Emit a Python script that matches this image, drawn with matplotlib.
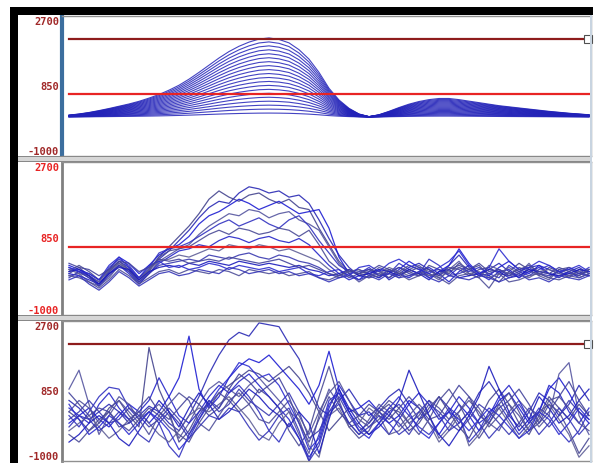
import numpy as np
import matplotlib.pyplot as plt
from matplotlib.patches import Rectangle

W, H = 596, 464

# sample times (one every 10 px of the original trace window)
times = np.arange(0, 530, 10)

upperThreshold = 2080
lowerThreshold = 650
yTicks = [-1000, 850, 2700]
yTickLabels = ['-1000', '850', '2700']

# panel 1: shape of the outermost contour (height above baseline) and contour levels
profile = [50, 80, 120, 170, 225, 285, 345, 415, 500, 595,
           710, 840, 1000, 1180, 1370, 1560, 1730, 1870, 1980, 2060,
           2090, 2050, 1960, 1780, 1530, 1180, 760, 450, 230, 80,
           10, 60, 150, 250, 340, 410, 460, 490, 490, 460,
           420, 380, 340, 300, 270, 240, 210, 180, 150, 125,
           100, 80, 60]
levels = [1.0, 0.95, 0.9, 0.85, 0.8, 0.75, 0.7, 0.65, 0.6, 0.55,
          0.5, 0.45, 0.4, 0.35, 0.3, 0.25, 0.2, 0.15, 0.1, 0.05]
baseline1 = 30

# panel 2 traces
p2a = [100, 50, -100, -250, 50, 300, 150, -150, 100, 350,
       550, 800, 1050, 1350, 1600, 1750, 1700, 1950, 2100, 2050,
       1950, 2000, 1850, 1900, 1700, 1300, 850, 450, 150, -50,
       -100, 100, -150, 0, 150, 250, 100, -50, 200, 450,
       150, -50, 100, 250, 50, -100, 150, 200, 0, -100,
       50, 150, 0]
p2b = [0, 150, -50, -300, 0, 250, 100, -200, 50, 400,
       650, 900, 1150, 1450, 1800, 2000, 1850, 1750, 1900, 1950,
       1800, 1700, 1800, 1600, 1550, 1100, 700, 300, 50, 100,
       0, -100, 50, 150, 50, -50, 200, 100, 0, 250,
       100, 200, -50, -200, 50, 250, 100, -50, 150, 50,
       -100, 100, 50]
p2c = [200, 100, 0, -150, 100, 400, 250, 0, 200, 450,
       600, 700, 900, 1200, 1400, 1500, 1650, 1800, 1700, 1550,
       1650, 1750, 1600, 1450, 1500, 1550, 1100, 400, 0, -150,
       50, 0, -100, 100, 300, 150, -100, 50, 200, 600,
       250, 0, -50, 150, 300, 100, 0, 200, 100, 0,
       150, 50, -50]
p2d = [-50, 0, -200, -300, -100, 200, 50, -250, 0, 300,
       450, 600, 700, 950, 1150, 1300, 1450, 1400, 1550, 1500,
       1350, 1450, 1500, 1300, 1200, 1050, 650, 250, 0, -200,
       -50, 150, 50, -100, 100, 200, 0, -150, 100, 300,
       0, -100, 200, 100, -50, 0, 250, -50, -150, 100,
       0, -50, 100]
p2e = [150, 50, -50, -200, 150, 350, 200, -100, 150, 500,
       600, 650, 750, 900, 1050, 1200, 1300, 1150, 1250, 1350,
       1200, 1100, 1300, 1400, 1150, 800, 500, 200, 50, 0,
       150, -50, 0, 250, 100, 0, 350, 200, -50, 150,
       50, 150, 0, -100, 200, 50, -50, 100, 200, 50,
       -50, 0, 150]
p2f = [50, 200, 50, -150, 50, 300, 100, -100, 100, 400,
       550, 600, 650, 800, 950, 1050, 950, 1100, 1050, 950,
       1000, 1100, 1050, 900, 1050, 700, 300, 100, -100, 0,
       100, 50, -100, 50, 200, 100, -50, 0, 150, 100,
       -50, 100, 150, 0, -50, 150, 50, 0, -100, 100,
       150, 0, 50]
p2g = [0, -50, -150, -250, 0, 200, 0, -250, 0, 250,
       400, 550, 600, 700, 650, 800, 900, 850, 750, 850,
       900, 800, 750, 850, 700, 450, 200, 0, -150, -50,
       0, -100, 100, 0, -100, 50, 150, 0, -200, 50,
       200, 0, -150, 50, 100, -100, 50, 150, 0, -50,
       50, -100, 0]
p2h = [100, 0, -50, -200, 100, 250, 50, -150, 100, 300,
       350, 450, 400, 500, 600, 550, 700, 650, 600, 700,
       650, 550, 600, 500, 400, 300, 100, -50, 50, 100,
       -50, 0, 150, 50, -50, 0, 100, -100, 50, 150,
       0, 50, -100, 0, 150, 0, -100, 50, 100, 0,
       -50, 50, 100]
p2i = [-100, 50, -100, -300, -50, 200, 50, -200, 0, 200,
       250, 300, 350, 300, 450, 400, 350, 450, 500, 400,
       350, 450, 400, 300, 250, 150, 0, -100, 0, 50,
       100, -50, 0, 150, 0, -50, 50, 100, -50, 0,
       100, -50, 0, 100, -50, 50, 150, 0, -50, 50,
       100, 0, -50]
p2j = [50, 100, -50, -250, 0, 150, 100, -150, 50, 150,
       200, 150, 250, 200, 300, 250, 200, 300, 250, 200,
       250, 200, 150, 200, 100, 50, -50, 0, 100, -50,
       0, 100, 50, -50, 100, 0, -150, 50, 100, -100,
       -50, 0, 100, 50, -100, -50, 100, 50, 0, -50,
       0, 100, 50]
p2k = [-50, -100, -200, -350, -150, 100, -50, -250, -100, 50,
       100, 0, 100, 50, 0, 100, 50, -50, 100, 50,
       0, 50, -50, 0, 50, -100, -150, -50, 50, 0,
       -100, -50, 100, 0, -150, -50, 0, -100, -250, -50,
       0, -100, -350, 0, -200, -150, -50, 0, -100, -150,
       -50, -100, 0]
p2l = [150, 50, 0, -150, 200, 400, 150, -100, 200, 300,
       150, 200, 100, 150, 250, 200, 100, 200, 150, 100,
       150, 50, 100, 150, 0, -50, 50, 100, -50, 150,
       200, 50, 250, 350, 200, 100, 0, 150, 300, 550,
       200, 0, 150, 600, 300, 100, 150, 300, 200, 50,
       100, 200, 50]
p2m = [250, 150, 100, -50, 100, 300, 250, 50, 150, 350,
       300, 350, 250, 300, 350, 300, 400, 350, 300, 250,
       300, 350, 250, 150, 200, 100, 0, -50, 100, 0,
       50, 200, 100, 0, 50, 150, 100, -50, 100, 200,
       100, 250, 50, 100, 0, 100, 200, 50, 0, 150,
       50, -50, 100]
p2n = [-150, -50, -250, -400, -200, 50, -100, -300, -150, 0,
       50, -50, 0, 100, 50, 0, 150, 100, 0, 50,
       100, 0, 50, -50, 0, -100, -200, -100, -50, -150,
       -50, -150, 0, -100, -50, 50, -100, -200, -50, -100,
       -150, -50, -100, -200, -100, 0, -150, -100, -200, -50,
       -100, -150, -50]

# panel 3 traces
p3a = [600, 400, 100, 300, 500, 300, 0, 200, 450, 300,
       0, -200, 200, 700, 1300, 1800, 2200, 2400, 2300, 2650,
       2600, 2550, 2100, 1700, 1000, 400, 200, 600, 900, 500,
       200, 400, 700, 900, 500, 100, 300, 700, 400, 0,
       300, 800, 1100, 700, 200, -100, 300, 800, 600, 200,
       500, 1000, 600]
p3b = [300, 100, -200, 0, 400, 600, 200, -100, 2000, 900,
       300, -500, -200, 300, 500, 800, 1000, 1200, 1400, 1300,
       1100, 1300, 1500, 1200, 800, 300, -200, 100, 400, 200,
       0, 300, 500, 200, -200, 0, 400, 700, 300, -100,
       -400, 100, 600, 900, 500, 0, -300, 200, 700, 400,
       100, 500, 200]
p3c = [0, 200, 400, 100, -100, 200, 500, 300, 0, 300,
       700, 1200, 2300, 900, 400, 700, 1200, 1500, 1700, 1600,
       1800, 1500, 1200, 900, 500, 1000, 1900, 900, 300, 400,
       600, 300, 0, 200, 600, 400, 0, -300, 100, 500,
       200, -200, 100, 600, 800, 400, 0, 300, 900, 1200,
       800, 300, 0]
p3d = [900, 1400, 500, -300, 200, 600, 300, 0, 300, 500,
       200, -400, 0, 500, 900, 1100, 900, 700, 1000, 1200,
       900, 600, 300, -300, -800, 200, 900, 500, 0, -300,
       100, 500, 300, -100, 200, 500, 200, -400, -100, 300,
       700, 400, 0, -200, 300, 600, 300, -100, 200, 1300,
       1600, 200, -300]
p3e = [200, -100, 300, 700, 950, 900, 400, 100, 300, 0,
       -600, -900, -300, 200, 600, 400, 800, 1000, 700, 300,
       -200, -500, 0, -400, -1000, -300, 600, 800, 300, -100,
       -300, 0, 300, 500, 200, -100, -300, 0, 400, 200,
       -500, -200, 300, 500, 100, -300, 0, 400, 200, -200,
       -500, -200, 300]
p3f = [-300, -500, -200, 100, 300, 0, -200, 100, 400, 200,
       -100, -300, -500, 0, 400, 800, 600, 300, 500, 900,
       700, 400, -200, -600, -200, 700, 1500, 600, -100, -400,
       -200, 300, 600, 400, 0, -300, 100, 600, 900, 500,
       0, -400, 0, 500, 800, 300, -200, 0, 500, 300,
       -200, -800, -400]
p3g = [400, 200, 0, 500, 800, 400, 100, 300, 600, 1200,
       700, 200, 0, 300, 700, 1000, 800, 1100, 1300, 1000,
       700, 400, 100, -400, -900, -500, 400, 1000, 600, 200,
       300, 0, -300, 100, 500, 800, 500, 100, 300, 700,
       400, 0, 200, 700, 1000, 600, 100, 300, 1000, 800,
       300, 0, 400]
p3h = [-200, 0, 200, -100, -400, -200, 100, 300, 0, -300,
       -500, -200, 200, 400, 300, 500, 700, 400, 100, -300,
       -450, 0, 300, 100, -600, -900, 200, 400, -100, 0,
       400, 200, -300, -200, 100, 300, 0, -500, -200, 200,
       -600, -300, 200, 400, 0, -400, -100, 300, 500, 100,
       -300, -900, -600]
p3i = [100, 300, 600, 300, 0, 100, 400, 200, -100, 100,
       400, 100, -300, 100, 600, 300, 500, 900, 600, 400,
       200, 500, 800, 300, -400, -200, 300, 700, 200, -200,
       0, 400, 200, 0, -300, 100, 500, 300, 0, -200,
       100, 500, 300, 0, -300, 0, 400, 200, -100, 200,
       600, 300, 100]
p3j = [-500, -300, 0, 200, 0, -400, -600, -200, 200, 600,
       300, -100, 400, 800, 500, 100, 300, 600, 900, 700,
       400, 200, -100, 300, 0, -800, 100, 900, 400, 0,
       -300, -100, 200, 600, 1400, 800, 200, -300, -600, -200,
       200, 700, 1500, 900, 300, -200, 100, 700, 400, 0,
       200, 600, 900]
p3k = [300, 600, 400, 0, 300, 700, 500, 100, -300, 200,
       500, 800, 600, 0, -200, 200, 600, 800, 500, 100,
       0, 300, 600, 200, -300, 300, 800, 1100, 600, 100,
       -100, 100, 400, 300, 0, 200, 600, 400, 100, 300,
       600, 300, -100, 200, 500, 200, -200, 100, 600, 700,
       400, 0, -200]
p3l = [500, 100, -300, -100, 200, 0, -300, 0, 300, 100,
       -200, -700, -400, 100, 500, 900, 1200, 1600, 1500, 1200,
       1300, 1000, 500, 0, -700, -400, 500, 800, 300, -200,
       -400, 0, 400, 700, 300, -200, -400, 0, 300, 100,
       -200, 100, 400, 200, -100, -400, -200, 300, 100, -300,
       0, 400, 100]
p3m = [800, 500, 200, 400, 300, -100, 0, 400, 700, 300,
       100, 400, 700, 500, 200, 400, 900, 1300, 1100, 800,
       1000, 1200, 700, 0, -500, 100, 700, 300, 0, 200,
       500, 300, 100, 400, 700, 400, 100, 200, 600, 1000,
       700, 200, 0, 400, 600, 900, 500, 0, 300, 700,
       1100, 600, 200]
p3n = [-100, 200, 100, -200, 0, 300, 100, -300, -500, 0,
       300, 0, -400, -100, 200, 100, 400, 300, -100, -450,
       -200, 200, 400, -200, -1000, -600, 300, 500, 0, -300,
       -100, 200, 0, -300, -100, 300, 600, 200, -200, 0,
       300, 0, -400, -100, 200, 500, 100, -300, 0, 400,
       100, -300, 0]

panel2 = [p2a, p2b, p2c, p2d, p2e, p2f, p2g, p2h, p2i, p2j, p2k, p2l, p2m, p2n]
panel3 = [p3a, p3b, p3c, p3d, p3e, p3f, p3g, p3h, p3i, p3j, p3k, p3l, p3m, p3n]

lineColors = ['#2a2ab4', '#45458f', '#1e1ed2', '#5656a0', '#3232c0', '#4b4b96', '#2626c8',
              '#606098', '#3a3ab0', '#1c1cbc', '#50509a', '#2e2ed0', '#44449c', '#3636b8']

DARK_RED = '#8e1c1c'
RED = '#e82424'


def pxAxes(fig, left, top, right, bottom):
    return fig.add_axes([left / W, 1 - bottom / H, (right - left) / W, (bottom - top) / H])


def pxRect(fig, left, top, right, bottom, color):
    fig.add_artist(Rectangle((left / W, 1 - bottom / H), (right - left) / W, (bottom - top) / H,
                             transform=fig.transFigure, facecolor=color, edgecolor='none', zorder=5))


def setupPanel(ax, labelColor, leftColor, leftWidth):
    ax.set_xlim(-7, 522)
    ax.set_ylim(-1000, 2700)
    ax.set_xticks([])
    ax.set_yticks(yTicks)
    ax.set_yticklabels(yTickLabels)
    ax.tick_params(axis='y', length=0, pad=2)
    for lbl, va in zip(ax.get_yticklabels(), ['bottom', 'center', 'top']):
        lbl.set_verticalalignment(va)
        lbl.set_color(labelColor)
        lbl.set_fontweight('bold')
        lbl.set_fontsize(7.5)
        lbl.set_family('DejaVu Sans Mono')
    for s in ['top', 'right', 'bottom']:
        ax.spines[s].set_color('#909090')
        ax.spines[s].set_linewidth(1.0)
    ax.spines['left'].set_color(leftColor)
    ax.spines['left'].set_linewidth(leftWidth)


def thresholdLine(ax, value, color, marker):
    ax.axhline(value, xmin=0.013, xmax=1, color=color, lw=1.6, zorder=4)
    if marker:
        ax.plot(times[-1] - 1, value, marker='s', ms=6, mfc='white', mec='#505050', mew=0.8, zorder=6,
                clip_on=False)


if __name__ == '__main__':
    fig = plt.figure(figsize=(W / 100, H / 100), dpi=100)

    # panel 1 - contour-like family of scaled curves
    ax1 = pxAxes(fig, 62, 17, 591, 157)
    setupPanel(ax1, '#a02828', '#3c6e9e', 3)
    for lev in levels:
        ax1.plot(times, baseline1 + lev * np.array(profile), color='#2222b8', lw=0.8, alpha=0.85)
    thresholdLine(ax1, upperThreshold, DARK_RED, True)
    thresholdLine(ax1, lowerThreshold, RED, False)

    # panel 2
    ax2 = pxAxes(fig, 62, 163, 591, 316)
    setupPanel(ax2, RED, '#808080', 2)
    for i, trace in enumerate(panel2):
        ax2.plot(times, trace, color=lineColors[i % len(lineColors)], lw=0.9, alpha=0.9)
    thresholdLine(ax2, lowerThreshold, RED, False)

    # panel 3
    ax3 = pxAxes(fig, 62, 322, 591, 462)
    setupPanel(ax3, '#a02828', '#808080', 2)
    for i, trace in enumerate(panel3):
        ax3.plot(times, trace, color=lineColors[i % len(lineColors)], lw=0.9, alpha=0.9)
    thresholdLine(ax3, upperThreshold, DARK_RED, True)

    # window frame
    pxRect(fig, 10, 8, 593, 16, 'black')
    pxRect(fig, 10, 8, 18, 464, 'black')
    pxRect(fig, 590, 16, 592, 464, '#c8d4e0')
    pxRect(fig, 18, 157, 590, 163, '#d6d6d6')
    pxRect(fig, 18, 157, 590, 158, '#888888')
    pxRect(fig, 18, 162, 590, 163, '#888888')
    pxRect(fig, 18, 316, 590, 322, '#d6d6d6')
    pxRect(fig, 18, 316, 590, 317, '#888888')
    pxRect(fig, 18, 321, 590, 322, '#888888')

    fig.savefig('out.png', dpi=100)
